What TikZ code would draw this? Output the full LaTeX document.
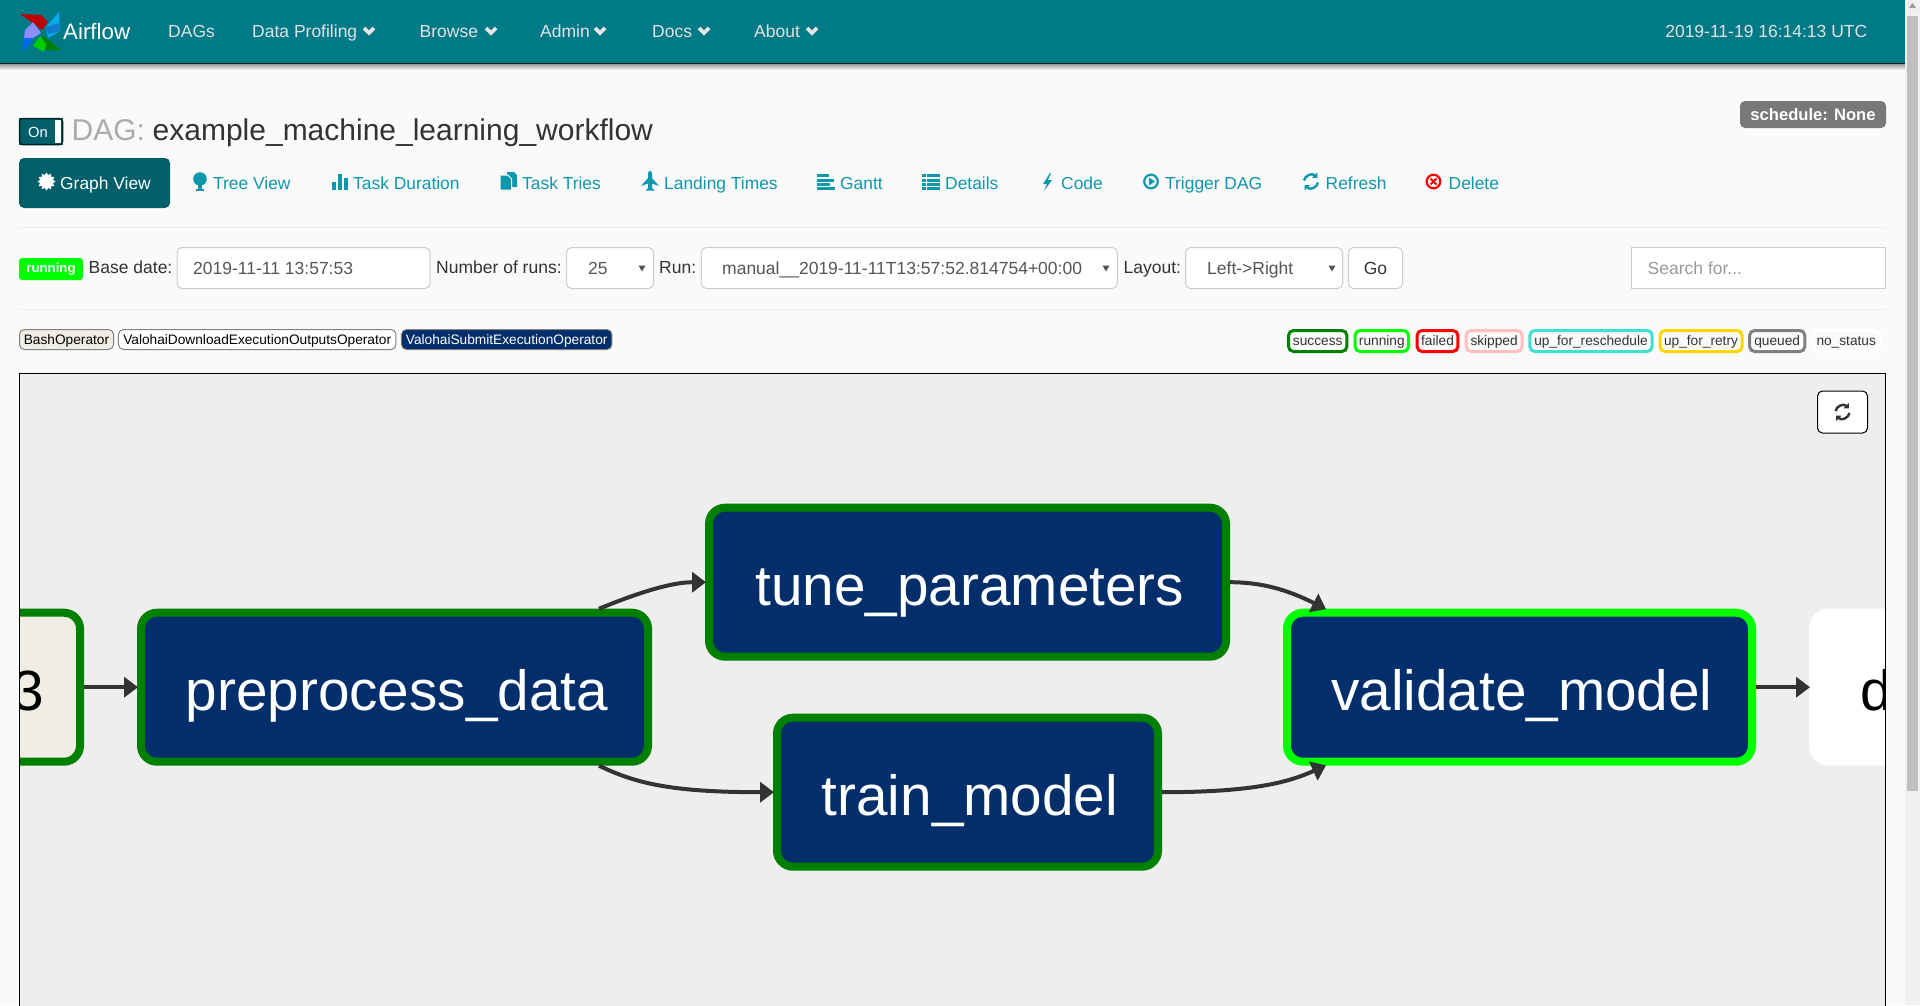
\documentclass[tikz,border=0pt]{standalone}
\usepackage{fontspec}
\setmainfont{Liberation Sans}
\usepackage{xcolor}
\usetikzlibrary{positioning,arrows.meta,shapes.geometric}

\definecolor{pagebg}{HTML}{FAFAFA}
\definecolor{navteal}{HTML}{007A87}
\definecolor{activeteal}{HTML}{005F6A}
\definecolor{linkteal}{HTML}{0E97AD}
\definecolor{tasknavy}{HTML}{022F6B}
\definecolor{bashfill}{HTML}{F0EDE4}
\definecolor{panelbg}{HTML}{EEEEEE}
\definecolor{bodytext}{HTML}{333333}
\definecolor{inputtext}{HTML}{555555}
\definecolor{navtext}{HTML}{E2E2E2}
\definecolor{greenstate}{HTML}{008000}
\definecolor{limestate}{HTML}{00FF00}

\newcommand\uisize[1]{\fontsize{#1}{#1}\selectfont}
\newcommand\navchevron[2]{\draw[white!90!black, line width=3.6pt] (#1-5,#2-3) -- (#1,#2+2) -- (#1+5,#2-3);}
\newcommand\selecttri[1]{\fill[inputtext] (#1-3.5,265.5) -- (#1+3.5,265.5) -- (#1,271.5) -- cycle;}
\newcommand\refreshicon[3]{
    \draw[#3, line width=2.4pt, -{Triangle[length=4pt,width=7.5pt]}] (#1-7,#2-1) .. controls (#1-6,#2-6) and (#1+1,#2-9) .. (#1+6.5,#2-3.5);
    \draw[#3, line width=2.4pt, -{Triangle[length=4pt,width=7.5pt]}] (#1+7,#2+1) .. controls (#1+6,#2+6) and (#1-1,#2+9) .. (#1-6.5,#2+3.5);
}

\begin{document}
\begin{tikzpicture}[x=1pt, y=-1pt, >=latex]
    \tikzset{
        navlink/.style={anchor=base west, inner sep=0pt, font=\uisize{17.5}, text=navtext},
        tablink/.style={anchor=base west, inner sep=0pt, font=\uisize{17.4}, text=linkteal},
        formlabel/.style={anchor=base west, inner sep=0pt, font=\uisize{17.5}, text=bodytext},
        formbox/.style={draw=black!20, fill=white, line width=1pt, rounded corners=5pt, inner sep=0pt, minimum height=41pt},
        formtext/.style={anchor=base west, inner sep=0pt, font=\uisize{17.5}, text=inputtext},
        opbox/.style={draw=black!50, line width=1pt, rounded corners=5pt, inner sep=0pt, minimum height=20pt, text height=12pt, text depth=3pt, font=\uisize{13.7}},
        statebox/.style={line width=3pt, rounded corners=5pt, fill=pagebg, inner sep=0pt, minimum height=21pt, text height=11pt, text depth=3pt, text=bodytext, font=\uisize{13.7}},
        taskbox/.style={line width=8pt, rounded corners=16pt, inner sep=0pt, minimum height=149pt, text height=54pt, text depth=7pt, font=\uisize{56.7}, execute at begin node=\hspace*{4.8pt}},
        flow/.style={->, draw=bodytext, line width=4pt, shorten >=-1pt, -{Triangle[length=14pt,width=20pt]}}
    }

    \useasboundingbox (0,0) rectangle (1920,1005);
    \fill[pagebg] (0,0) rectangle (1920,1005);

    % scrollbar
    \fill[black!6] (1905,0) rectangle (1920,1005);
    \fill[black!25] (1907,16) rectangle (1918,791);
    \fill[black!40] (1909,8) -- (1916,8) -- (1912.5,3) -- cycle;

    % navbar
    \shade[top color=black!45, bottom color=pagebg] (0,63) rectangle (1905,70);
    \fill[navteal] (0,0) rectangle (1905,63);
    \draw[black!70!navteal, line width=1pt] (0,63) -- (1905,63);

    % logo
    \fill[red!75!black] (20,14) -- (41,15) -- (48,22) -- (42,30) -- (33,23) -- cycle;
    \fill[cyan] (59,12) -- (46,27) -- (48,38) -- (60,31) -- cycle;
    \fill[cyan!60!blue] (46,27) -- (59,23) -- (60,31) -- (48,34) -- cycle;
    \fill[green!50!black] (42,35) -- (61,50) -- (46,50) -- cycle;
    \fill[green!80!black] (40,36) -- (46,44) -- (44,52) -- (33,46) -- cycle;
    \fill[blue!45!white] (33,22) -- (41,33) -- (33,38) -- (24,38) -- (25,30) -- cycle;
    \fill[blue!60!cyan] (23,52) -- (24,38) -- (33,38) -- cycle;

    \node[navlink, font=\uisize{22.3}, text=white] (brand) at (63,39) {Airflow};
    \node[navlink] (dags) at (168,37) {DAGs};
    \node[navlink] (profiling) at (252,37) {Data Profiling};
    \node[navlink] (browse) at (419.5,37) {Browse};
    \node[navlink] (admin) at (540,37) {Admin};
    \node[navlink] (docs) at (652,37) {Docs};
    \node[navlink] (about) at (754,37) {About};
    \navchevron{369}{31}
    \navchevron{491}{31}
    \navchevron{600}{31}
    \navchevron{704}{31}
    \navchevron{812}{31}
    \node[navlink, anchor=base east] (clock) at (1867.5,37) {2019-11-19 16:14:13 UTC};

    % title row
    \fill[activeteal] (19,118) rectangle (63,145);
    \draw[black!70!navteal, line width=1.5pt, rounded corners=3pt] (19.5,118.5) rectangle (62.5,144.5);
    \fill[white] (55,120) rectangle (60.5,143);
    \node[inner sep=0pt, text=white, font=\uisize{14.7}] (toggle) at (38,132.5) {On};
    \node[formlabel, font=\uisize{30}, text=black!33] (daglabel) at (71.5,140) {DAG:};
    \node[formlabel, font=\uisize{30}] (dagname) at (152.5,140) {example\_machine\_learning\_workflow};
    \node[fill=black!53, rounded corners=5pt, inner sep=0pt, minimum width=146pt, minimum height=27pt, text=white, text height=13pt, text depth=1pt, font=\bfseries\uisize{16.6}] (schedule) at (1813,114.5) {schedule: None};

    % tab row
    \node[fill=activeteal, rounded corners=5pt, inner sep=0pt, minimum width=151pt, minimum height=50pt] (graphtab) at (94.5,183) {};
    \node[star, star points=12, star point ratio=1.35, fill=white, inner sep=0pt, minimum size=18pt] (sunicon) at (46.5,181.5) {};
    \node[tablink, text=white] (graphlabel) at (60,189) {Graph View};

    \fill[linkteal] (200,179) circle[radius=6.8pt];
    \fill[linkteal] (198,183) rectangle (202,189);
    \fill[linkteal] (196,189) rectangle (204,190.5);
    \node[tablink] (treelabel) at (213,189) {Tree View};

    \fill[linkteal] (332,182) rectangle (336,190);
    \fill[linkteal] (338,174) rectangle (342,190);
    \fill[linkteal] (344,178) rectangle (348,190);
    \node[tablink] (durationlabel) at (353,189) {Task Duration};

    \fill[linkteal] (507,172) -- (514,172) -- (517,175) -- (517,187) -- (507,187) -- cycle;
    \fill[linkteal, draw=pagebg, line width=1pt] (500,175) -- (508,175) -- (511.5,179) -- (511.5,190) -- (500,190) -- cycle;
    \node[tablink] (triesicon) at (522,189) {Task Tries};

    \fill[linkteal] (648,173) -- (650,170.5) -- (652,173) -- (652,178) -- (659,186) -- (652,183.5) -- (652,188) -- (654.5,190.5) -- (645.5,190.5) -- (648,188) -- (648,183.5) -- (641,186) -- (648,178) -- cycle;
    \node[tablink] (landinglabel) at (664,189) {Landing Times};

    \fill[linkteal] (817,174) rectangle (829,177);
    \fill[linkteal] (817,179) rectangle (834,182);
    \fill[linkteal] (817,183) rectangle (830,186);
    \fill[linkteal] (817,187) rectangle (835,190);
    \node[tablink] (ganttlabel) at (840,189) {Gantt};

    \fill[linkteal] (922,174) rectangle (925.5,177);
    \fill[linkteal] (922,178.5) rectangle (925.5,181.5);
    \fill[linkteal] (922,183) rectangle (925.5,186);
    \fill[linkteal] (922,187) rectangle (925.5,190);
    \fill[linkteal] (927,174) rectangle (940,177);
    \fill[linkteal] (927,178.5) rectangle (940,181.5);
    \fill[linkteal] (927,183) rectangle (940,186);
    \fill[linkteal] (927,187) rectangle (940,190);
    \node[tablink] (detailslabel) at (945,189) {Details};

    \fill[linkteal] (1050,173) -- (1043,184) -- (1047,184) -- (1044,191) -- (1052,180) -- (1048,180) -- (1051,173) -- cycle;
    \node[tablink] (codelabel) at (1061,189) {Code};

    \draw[linkteal, line width=2.2pt] (1151,181.5) circle[radius=6.8pt];
    \fill[linkteal] (1149,177.5) -- (1155,181.5) -- (1149,185.5) -- cycle;
    \node[tablink] (triggerlabel) at (1165,189) {Trigger DAG};

    \refreshicon{1311}{181.5}{linkteal}
    \node[tablink] (refreshlabel) at (1325.5,189) {Refresh};

    \draw[red, line width=2.2pt] (1433.5,181.5) circle[radius=6.8pt];
    \draw[red, line width=2pt] (1430.5,178.5) -- (1436.5,184.5) (1436.5,178.5) -- (1430.5,184.5);
    \node[tablink] (deletelabel) at (1448.5,189) {Delete};

    \draw[black!7, line width=1pt] (19,227) -- (1886,227);

    % form row
    \node[fill=limestate, rounded corners=3pt, inner sep=0pt, minimum width=64pt, minimum height=22pt, text=white, text height=11pt, text depth=3.5pt, font=\bfseries\uisize{13.2}] (runbadge) at (51,269) {running};
    \node[formlabel] (baselabel) at (88.5,273) {Base date:};
    \node[formbox, minimum width=253pt] (basebox) at (303.5,268) {};
    \node[formtext] (basevalue) at (193,274) {2019-11-11 13:57:53};
    \node[formlabel] (runslabel) at (436,273) {Number of runs:};
    \node[formbox, minimum width=87pt] (runsbox) at (610,268) {};
    \node[formtext] (runsvalue) at (588,274) {25};
    \selecttri{642}
    \node[formlabel] (runlabel) at (659,273) {Run:};
    \node[formbox, minimum width=416pt] (runbox) at (909.3,268) {};
    \node[formtext] (runvalue) at (722,274) {manual\_\_2019-11-11T13:57:52.814754+00:00};
    \selecttri{1106}
    \node[formlabel] (layoutlabel) at (1123.5,273) {Layout:};
    \node[formbox, minimum width=157pt] (layoutbox) at (1264,268) {};
    \node[formtext] (layoutvalue) at (1207,274) {Left->Right};
    \selecttri{1332}
    \node[formbox, minimum width=54pt, text=bodytext, text height=14pt, text depth=2pt, font=\uisize{17.5}] (gobutton) at (1375.5,268) {Go};
    \node[draw=black!20, fill=white, line width=1.2pt, inner sep=0pt, minimum width=254pt, minimum height=41pt] (searchbox) at (1758.5,268) {};
    \node[formtext, text=black!40] (searchhint) at (1647.5,274) {Search for...};

    \draw[black!7, line width=1pt] (19,309) -- (1886,309);

    % operator legend
    \node[opbox, fill=bashfill, minimum width=94pt] (bashop) at (66.5,339.5) {BashOperator};
    \node[opbox, fill=white, minimum width=277.5pt] (downloadop) at (257.2,339.5) {ValohaiDownloadExecutionOutputsOperator};
    \node[opbox, fill=tasknavy, text=white, minimum width=210.5pt] (submitop) at (506.7,339.5) {ValohaiSubmitExecutionOperator};

    % state legend
    \node[statebox, draw=greenstate, minimum width=58.4pt] (successkey) at (1317.7,341) {success};
    \node[statebox, draw=limestate, minimum width=53.4pt] (runningkey) at (1381.8,341) {running};
    \node[statebox, draw=red, minimum width=40.8pt] (failedkey) at (1437.5,341) {failed};
    \node[statebox, draw=pink, minimum width=56pt] (skippedkey) at (1494.1,341) {skipped};
    \node[statebox, draw={rgb,255:red,64;green,224;blue,208}, minimum width=122.3pt] (reschedulekey) at (1591,341) {up\_for\_reschedule};
    \node[statebox, draw={rgb,255:red,255;green,215;blue,0}, minimum width=82pt] (retrykey) at (1701,341) {up\_for\_retry};
    \node[statebox, draw=black!50, minimum width=55.3pt] (queuedkey) at (1777.2,341) {queued};
    \node[statebox, draw=white, minimum width=66.5pt] (nostatuskey) at (1846.2,341) {no\_status};

    % graph panel
    \begin{scope}
        \clip (19.5,373.5) rectangle (1885.5,1010);
        \fill[panelbg] (19.5,373.5) rectangle (1885.5,1010);

        \node[taskbox, draw=greenstate, fill=bashfill, minimum width=109pt] (sourcetask) at (25.5,687.2) {3};
        \node[taskbox, draw=greenstate, fill=tasknavy, text=white, minimum width=507pt] (preprocess) at (394.5,687.2) {preprocess\_data};
        \node[taskbox, draw=greenstate, fill=tasknavy, text=white, minimum width=517pt] (tune) at (967.5,582.2) {tune\_parameters};
        \node[taskbox, draw=greenstate, fill=tasknavy, text=white, minimum width=381pt] (train) at (967.5,792.2) {train\_model};
        \node[taskbox, draw=limestate, fill=tasknavy, text=white, minimum width=465pt] (validate) at (1519.5,687.2) {validate\_model};
        \node[taskbox, draw=white, fill=white, minimum width=121pt] (deploy) at (1873.5,687.2) {d};

        \draw[flow] (sourcetask) -- (preprocess);
        \draw[flow] (preprocess.21.4) .. controls (640,592) and (672,582.2) .. (tune.west);
        \draw[flow] (preprocess.-21.2) .. controls (635,783) and (670,792.2) .. (train.west);
        \draw[flow] (tune.east) .. controls (1262,582.2) and (1288,590) .. (validate.158);
        \draw[flow] (train.east) .. controls (1250,792.2) and (1287,783) .. (validate.202.3);
        \draw[flow] (validate) -- (deploy);
    \end{scope}
    \draw[black, line width=1.5pt] (19.5,1010) -- (19.5,373.5) -- (1885.5,373.5) -- (1885.5,1010);

    \node[draw=black, fill=white, line width=1pt, rounded corners=5pt, inner sep=0pt, minimum width=50pt, minimum height=42pt] (resetbutton) at (1842.5,412) {};
    \refreshicon{1842.5}{412}{bodytext}
\end{tikzpicture}
\end{document}
